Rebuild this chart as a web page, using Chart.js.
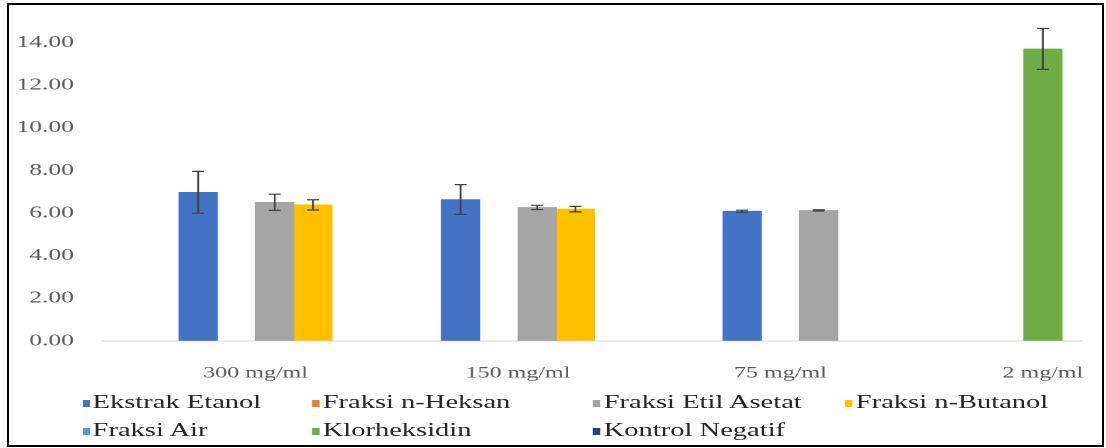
<!DOCTYPE html>
<html>
<head>
<meta charset="utf-8">
<script src="https://cdn.jsdelivr.net/npm/chart.js@4/dist/chart.umd.min.js"></script>
<style>
  html, body { margin: 0; padding: 0; background: #fff; overflow: hidden; }
  #frame { position: absolute; left: 7px; top: 3px; width: 1097px; height: 444px; box-sizing: border-box; border: 2px solid #000; }
  /* the reference picture is stretched sideways, so the chart is drawn narrow and widened */
  #wrap { position: absolute; left: 0; top: 0; width: 737px; height: 448px; transform: scaleX(1.5007); transform-origin: 0 0; }
  #legend { position: absolute; left: 0; top: 388px; width: 737px; font-family: "Liberation Serif", serif; font-size: 19px; color: #262626; }
  .item { position: absolute; white-space: nowrap; line-height: 28px; }
  .item i { display: inline-block; width: 5px; height: 7px; margin-right: 2px; vertical-align: 1px; }
</style>
</head>
<body>
<div id="frame"></div>
<div id="wrap">
  <canvas id="chart"></canvas>
  <div id="legend"></div>
</div>
<script>
const categories = ['300 mg/ml', '150 mg/ml', '75 mg/ml', '2 mg/ml'];

const seriesNames = ['Ekstrak Etanol', 'Fraksi n-Heksan', 'Fraksi Etil Asetat', 'Fraksi n-Butanol',
                     'Fraksi Air', 'Klorheksidin', 'Kontrol Negatif'];
const seriesColors = ['#4472C4', '#ED7D31', '#A5A5A5', '#FFC000', '#5B9BD5', '#70AD47', '#264478'];

// mean values (null = no bar in that group)
const ekstrakEtanol    = [6.97, 6.63, 6.08, null];
const fraksiHeksan     = [0, 0, 0, null];
const fraksiEtilAsetat = [6.50, 6.26, 6.12, null];
const fraksiButanol    = [6.38, 6.18, null, null];
const fraksiAir        = [null, null, null, null];
const klorheksidin     = [null, null, null, 13.70];
const kontrolNegatif   = [null, null, null, null];

// standard deviations
const errEkstrakEtanol    = [0.98, 0.70, 0.05, null];
const errFraksiHeksan     = [null, null, null, null];
const errFraksiEtilAsetat = [0.38, 0.10, 0.03, null];
const errFraksiButanol    = [0.24, 0.13, null, null];
const errFraksiAir        = [null, null, null, null];
const errKlorheksidin     = [null, null, null, 0.96];
const errKontrolNegatif   = [null, null, null, null];

const yTicks = [0, 2, 4, 6, 8, 10, 12, 14];

const values = [ekstrakEtanol, fraksiHeksan, fraksiEtilAsetat, fraksiButanol, fraksiAir, klorheksidin, kontrolNegatif];
const errors = [errEkstrakEtanol, errFraksiHeksan, errFraksiEtilAsetat, errFraksiButanol, errFraksiAir, errKlorheksidin, errKontrolNegatif];

const datasets = seriesNames.map((name, s) => ({
  label: name,
  data: values[s].map((v, i) => ({ x: i, y: v })),
  errors: errors[s],
  // a zero bar keeps its slot but shows nothing
  backgroundColor: c => (c.raw && c.raw.y === 0) ? 'rgba(0,0,0,0)' : seriesColors[s],
  borderWidth: 0
}));

// draws the error bars on top of the bars
const errorBars = {
  id: 'errorBars',
  afterDatasetsDraw(chart) {
    const ctx = chart.ctx;
    const y = chart.scales.y;
    ctx.save();
    ctx.strokeStyle = '#404040';
    ctx.lineWidth = 1.2;
    chart.data.datasets.forEach((ds, d) => {
      const meta = chart.getDatasetMeta(d);
      meta.data.forEach((bar, i) => {
        const v = ds.data[i].y, e = ds.errors[i];
        if (v == null || !e) return;
        const x = bar.x;
        const top = y.getPixelForValue(v + e), bot = y.getPixelForValue(v - e);
        ctx.beginPath();
        ctx.moveTo(x, top); ctx.lineTo(x, bot);
        ctx.moveTo(x - 4, top); ctx.lineTo(x + 4, top);
        ctx.moveTo(x - 4, bot); ctx.lineTo(x + 4, bot);
        ctx.stroke();
      });
    });
    ctx.restore();
  }
};

const chart = new Chart(document.getElementById('chart'), {
  type: 'bar',
  data: { datasets },
  options: {
    responsive: true,
    maintainAspectRatio: false,
    animation: false,
    devicePixelRatio: 2,
    skipNull: true,
    barThickness: 25.5,
    layout: { padding: { top: 11, right: 5, bottom: 50, left: 0 } },
    plugins: {
      legend: { display: false },
      tooltip: { enabled: false }
    },
    scales: {
      x: {
        type: 'linear',
        offset: false,
        min: -0.5836,
        max: 3.15,
        grid: { display: false },
        border: { display: true, color: '#D9D9D9', width: 1 },
        afterBuildTicks: axis => { axis.ticks = categories.map((c, i) => ({ value: i })); },
        ticks: {
          padding: 15,
          color: '#595959',
          font: { family: 'Liberation Serif', size: 16 },
          callback: v => categories[v]
        }
      },
      y: {
        min: 0,
        max: 15.0,
        grid: { display: false },
        border: { display: false },
        afterBuildTicks: axis => { axis.ticks = yTicks.map(v => ({ value: v })); },
        ticks: {
          padding: 11,
          color: '#595959',
          font: { family: 'Liberation Serif', size: 17 },
          callback: v => v.toFixed(2)
        }
      }
    }
  },
  plugins: [errorBars]
});

// legend laid out as a grid like the original
const legendCols = [54.7, 208, 395.3, 563.3];
const legend = document.getElementById('legend');
chart.data.datasets.forEach((ds, i) => {
  const el = document.createElement('div');
  el.className = 'item';
  el.style.left = legendCols[i % 4] + 'px';
  el.style.top = (Math.floor(i / 4) * 28) + 'px';
  el.innerHTML = '<i style="background:' + seriesColors[i] + '"></i>' + ds.label;
  legend.appendChild(el);
});
</script>
</body>
</html>
